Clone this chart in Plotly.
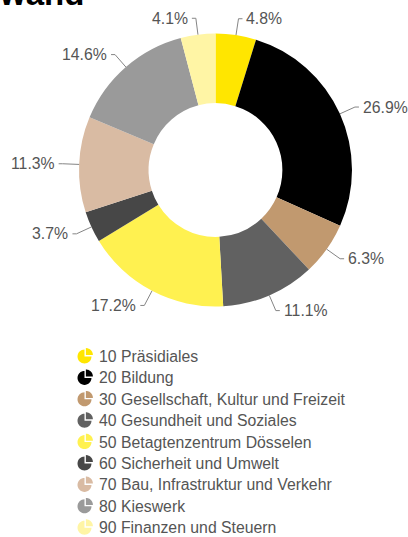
import math
import plotly.graph_objects as go

# ---------------- data ----------------
categories = [
    "10 Präsidiales",
    "20 Bildung",
    "30 Gesellschaft, Kultur und Freizeit",
    "40 Gesundheit und Soziales",
    "50 Betagtenzentrum Dösselen",
    "60 Sicherheit und Umwelt",
    "70 Bau, Infrastruktur und Verkehr",
    "80 Kieswerk",
    "90 Finanzen und Steuern",
]
shares = [4.8, 26.9, 6.3, 11.1, 17.2, 3.7, 11.3, 14.6, 4.1]
colors = ["#FFE600", "#000000", "#C1996F", "#616161", "#FFF150",
          "#474747", "#D9BBA3", "#9A9A9A", "#FFF5A5"]
title_text = "Aufwand"

# ---------------- layout constants (pixels) ----------------
W, H = 408, 537
CX, CY = 215.5, 170.0
R_OUT = 136.5
HOLE = 0.49
R_ELB = 153.0
STUB = 4.0
GAP = 2.0
FONT = "Liberation Sans, Arial, sans-serif"
TXT_COL = "#555555"
LINE_COL = "#858585"
FS = 15.8
LEG_X, LEG_Y0, LEG_DY, LEG_TX = 84.5, 356.5, 21.4, 97.0
ICON_R = 7.0


def px(x):
    return x / W


def py(y):
    return 1 - y / H


fig = go.Figure()
fig.add_trace(go.Pie(
    values=shares, labels=categories, sort=False, direction="clockwise",
    rotation=0, hole=HOLE, textinfo="none", showlegend=False,
    marker=dict(colors=colors, line=dict(width=0)),
    domain=dict(x=[px(CX - R_OUT), px(CX + R_OUT)],
                y=[py(CY + R_OUT), py(CY - R_OUT)]),
))

shapes = []
annotations = []

# outside labels with leader lines
total = sum(shares)
cum = 0.0
for v in shares:
    mid = math.radians((cum + v / 2) / total * 360)
    cum += v
    s, c = math.sin(mid), math.cos(mid)
    sx, sy = CX + R_OUT * s, CY - R_OUT * c
    ex, ey = CX + R_ELB * s, CY - R_ELB * c
    side = 1 if s >= 0 else -1
    hx = ex + side * STUB
    shapes.append(dict(
        type="path", xref="paper", yref="paper",
        path=f"M {px(sx)},{py(sy)} L {px(ex)},{py(ey)} L {px(hx)},{py(ey)}",
        line=dict(color=LINE_COL, width=1)))
    annotations.append(dict(
        x=px(hx + side * GAP), y=py(ey), xref="paper", yref="paper",
        text=f"{v:.1f}%", showarrow=False,
        xanchor="left" if side > 0 else "right", yanchor="middle",
        font=dict(family=FONT, size=FS, color=TXT_COL)))


# custom legend with pie icons
def sector(cx, cy, r, a0, a1, n=24):
    pts = [(cx, cy)]
    for i in range(n + 1):
        a = math.radians(a0 + (a1 - a0) * i / n)
        pts.append((cx + r * math.sin(a), cy - r * math.cos(a)))
    return "M " + " L ".join(f"{px(x)},{py(y)}" for x, y in pts) + " Z"


for i, (name, col) in enumerate(zip(categories, colors)):
    yc = LEG_Y0 + i * LEG_DY
    shapes.append(dict(type="path", xref="paper", yref="paper",
                       path=sector(LEG_X, yc, ICON_R, 90, 360),
                       fillcolor=col, line=dict(width=0)))
    shapes.append(dict(type="path", xref="paper", yref="paper",
                       path=sector(LEG_X + 1.4, yc - 1.4, ICON_R, 0, 90),
                       fillcolor=col, line=dict(width=0)))
    annotations.append(dict(
        x=px(LEG_TX), y=py(yc), xref="paper", yref="paper", text=name,
        showarrow=False, xanchor="left", yanchor="middle",
        font=dict(family=FONT, size=FS, color=TXT_COL)))

# title (partly cut off at the top edge, as in the reference)
annotations.append(dict(
    x=px(86), y=py(-6), xref="paper", yref="paper",
    text=f"<b>{title_text}</b>", showarrow=False,
    xanchor="right", yanchor="middle",
    font=dict(family=FONT, size=33, color="#000000")))

fig.update_layout(
    width=W, height=H, margin=dict(l=0, r=0, t=0, b=0),
    paper_bgcolor="white", plot_bgcolor="white",
    shapes=shapes, annotations=annotations, showlegend=False,
)

fig.write_html("out.html")
